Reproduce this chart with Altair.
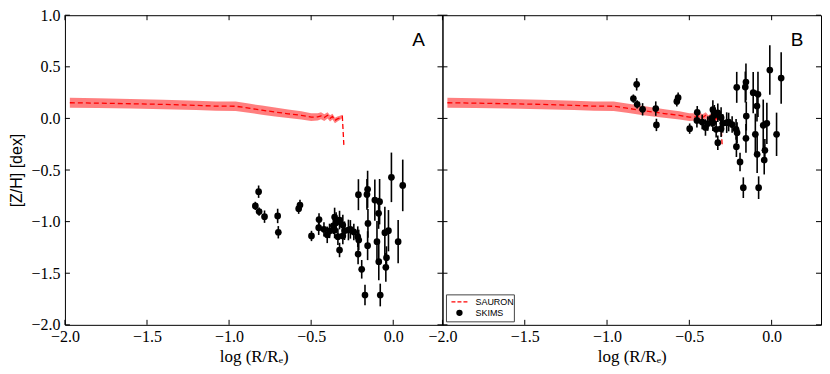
import altair as alt
import pandas as pd

# ---------------- data ----------------
X_TICKS = [-2.0, -1.5, -1.0, -0.5, 0.0]
Y_TICKS = [-2.0, -1.5, -1.0, -0.5, 0.0, 0.5, 1.0]
X_DOMAIN = [-2.0, 0.3]
Y_DOMAIN = [-2.0, 1.0]

# SAURON profile (centre and half-width of the shaded band)
sauron_x = [-1.97, -1.80, -1.60, -1.40, -1.20, -1.08, -0.96, -0.88, -0.80, -0.72,
            -0.64, -0.56, -0.50, -0.46, -0.44, -0.42, -0.40, -0.385, -0.37, -0.355,
            -0.34, -0.325, -0.31, -0.30]
sauron_zh = [0.152, 0.148, 0.142, 0.136, 0.126, 0.119, 0.118, 0.100, 0.080, 0.062,
             0.045, 0.030, 0.012, 0.015, 0.025, 0.008, 0.030, 0.000, 0.018, -0.020,
             -0.005, 0.005, 0.020, -0.280]
sauron_err = [0.048, 0.048, 0.047, 0.046, 0.045, 0.045, 0.045, 0.044, 0.044, 0.043,
              0.042, 0.040, 0.038, 0.036, 0.034, 0.032, 0.030, 0.030, 0.028, 0.026,
              0.024, 0.020, 0.015, 0.004]

# SKIMS measurements (panel A values) with 1-sigma errors
skims_x = [-0.840, -0.820, -0.817, -0.784, -0.704, -0.700, -0.576, -0.568, -0.498, -0.452,
           -0.454, -0.422, -0.402, -0.388, -0.365, -0.357, -0.348, -0.357, -0.337, -0.327,
           -0.327, -0.307, -0.297, -0.273, -0.261, -0.307, -0.240, -0.216, -0.210, -0.214,
           -0.212, -0.192, -0.172, -0.156, -0.160, -0.154, -0.156, -0.112, -0.083, -0.089,
           -0.099, -0.088, -0.079, -0.051, -0.029, -0.041, -0.045, -0.011, 0.030, 0.058]
skims_zh_a = [-0.848, -0.710, -0.903, -0.952, -0.945, -1.103, -0.875, -0.839, -1.139, -0.980,
              -1.059, -1.075, -1.128, -1.090, -1.040, -0.955, -1.010, -1.081, -1.146, -0.985,
              -1.275, -1.033, -1.088, -1.081, -1.075, -1.139, -1.100, -1.146, -1.178, -1.314,
              -0.739, -1.462, -1.711, -0.687, -0.736, -1.017, -1.233, -0.791, -0.807, -0.920,
              -1.194, -1.388, -1.711, -1.107, -1.088, -1.349, -1.443, -0.571, -1.194, -0.649]
skims_err = [0.04, 0.06, 0.04, 0.06, 0.07, 0.06, 0.05, 0.05, 0.05, 0.06,
             0.07, 0.07, 0.08, 0.07, 0.08, 0.09, 0.10, 0.08, 0.08, 0.09,
             0.07, 0.10, 0.09, 0.10, 0.09, 0.08, 0.08, 0.10, 0.10, 0.10,
             0.15, 0.09, 0.10, 0.18, 0.15, 0.14, 0.14, 0.20, 0.22, 0.15,
             0.20, 0.18, 0.11, 0.25, 0.20, 0.11, 0.14, 0.24, 0.21, 0.25]
ZH_SHIFT_B = 1.04  # panel B shows the SKIMS profile shifted by a constant

LEGEND_LABELS = ["SAURON", "SKIMS"]
PANEL_LABELS = ["A", "B"]

# ---------------- tables ----------------
band = pd.DataFrame({
    "x": sauron_x,
    "zh": sauron_zh,
    "lo": [c - e for c, e in zip(sauron_zh, sauron_err)],
    "hi": [c + e for c, e in zip(sauron_zh, sauron_err)],
})


def skims_table(shift):
    zh = [v + shift for v in skims_zh_a]
    return pd.DataFrame({
        "x": skims_x,
        "zh": zh,
        "lo": [v - e for v, e in zip(zh, skims_err)],
        "hi": [v + e for v, e in zip(zh, skims_err)],
    })


xt = pd.DataFrame({"x": X_TICKS})
yt = pd.DataFrame({"zh": Y_TICKS})
one = pd.DataFrame({"k": [0]})

H = 310
RED = "#ff0000"
TICK = 5
SERIF = "Liberation Serif"
SANS = "Liberation Sans"


def xenc(field="x"):
    return alt.X(
        f"{field}:Q",
        scale=alt.Scale(domain=X_DOMAIN, nice=False, zero=False),
        axis=alt.Axis(values=X_TICKS, format=".1f", title="log (R/Rₑ)",
                      ticks=False, domain=False, grid=False, labelFlush=False,
                      labelOverlap=False, labelPadding=4, titlePadding=4,
                      labelFont=SERIF, labelFontSize=16, labelColor="black",
                      titleFont=SERIF, titleFontSize=17, titleColor="black",
                      titleFontWeight="normal"),
    )


def yenc(field, show):
    ax = alt.Axis(values=Y_TICKS, format=".1f", title="[Z/H] [dex]",
                  ticks=False, domain=False, grid=False, labelPadding=5,
                  labelFont=SERIF, labelFontSize=16, labelColor="black",
                  titlePadding=6, titleFont=SANS, titleFontSize=16, titleColor="black",
                  titleFontWeight="normal", labelOverlap=False) if show else None
    return alt.Y(f"{field}:Q", scale=alt.Scale(domain=Y_DOMAIN, nice=False, zero=False),
                 axis=ax)


def panel(shift, width, label, show_y, legend):
    pts = skims_table(shift)
    layers = []
    layers.append(alt.Chart(band).mark_area(color=RED, opacity=0.5).encode(
        x=xenc(), y=yenc("lo", show_y), y2="hi"))
    layers.append(alt.Chart(band).mark_line(color=RED, strokeDash=[5, 3], strokeWidth=1.3).encode(
        x=xenc(), y=yenc("zh", show_y)))
    layers.append(alt.Chart(pts).mark_rule(color="black", strokeWidth=1.6).encode(
        x=xenc(), y=yenc("lo", show_y), y2="hi"))
    layers.append(alt.Chart(pts).mark_circle(size=45, color="black", opacity=1).encode(
        x=xenc(), y=yenc("zh", show_y)))
    # inward ticks on all four sides
    layers.append(alt.Chart(xt).mark_rule(color="black", strokeWidth=1).encode(
        x=xenc(), y=alt.value(H), y2=alt.value(H - TICK)))
    layers.append(alt.Chart(xt).mark_rule(color="black", strokeWidth=1).encode(
        x=xenc(), y=alt.value(0), y2=alt.value(TICK)))
    layers.append(alt.Chart(yt).mark_rule(color="black", strokeWidth=1).encode(
        y=yenc("zh", show_y), x=alt.value(0), x2=alt.value(TICK)))
    layers.append(alt.Chart(yt).mark_rule(color="black", strokeWidth=1).encode(
        y=yenc("zh", show_y), x=alt.value(width), x2=alt.value(width - TICK)))
    # panel letter
    layers.append(alt.Chart(one).mark_text(text=label, font=SANS, fontSize=19,
                                           color="black").encode(
        x=alt.value(width - 24), y=alt.value(25)))
    if legend:
        layers.append(alt.Chart(one).mark_rect(fill="white", stroke="#444", strokeWidth=1).encode(
            x=alt.value(4), x2=alt.value(72), y=alt.value(280), y2=alt.value(307)))
        layers.append(alt.Chart(one).mark_rule(color=RED, strokeDash=[4, 2], strokeWidth=1.2).encode(
            x=alt.value(9), x2=alt.value(26), y=alt.value(287)))
        layers.append(alt.Chart(one).mark_circle(size=40, color="black", opacity=1).encode(
            x=alt.value(17), y=alt.value(298)))
        layers.append(alt.Chart(one).mark_text(text=LEGEND_LABELS[0], align="left", baseline="middle",
                                               font=SANS, fontSize=9, color="black").encode(
            x=alt.value(33), y=alt.value(287)))
        layers.append(alt.Chart(one).mark_text(text=LEGEND_LABELS[1], align="left", baseline="middle",
                                               font=SANS, fontSize=9, color="black").encode(
            x=alt.value(33), y=alt.value(298)))
    return alt.layer(*layers).properties(width=width, height=H)


pa = panel(0.0, 378, PANEL_LABELS[0], True, False)
pb = panel(ZH_SHIFT_B, 379, PANEL_LABELS[1], False, True)

chart = alt.hconcat(pa, pb, spacing=0, bounds="flush").properties(
    padding={"left": 0, "right": 0, "top": -2, "bottom": 0},
    background="white",
).configure_view(
    stroke="black", strokeWidth=1
)

chart.save("out.html", embed_options={"renderer": "svg", "actions": False})
